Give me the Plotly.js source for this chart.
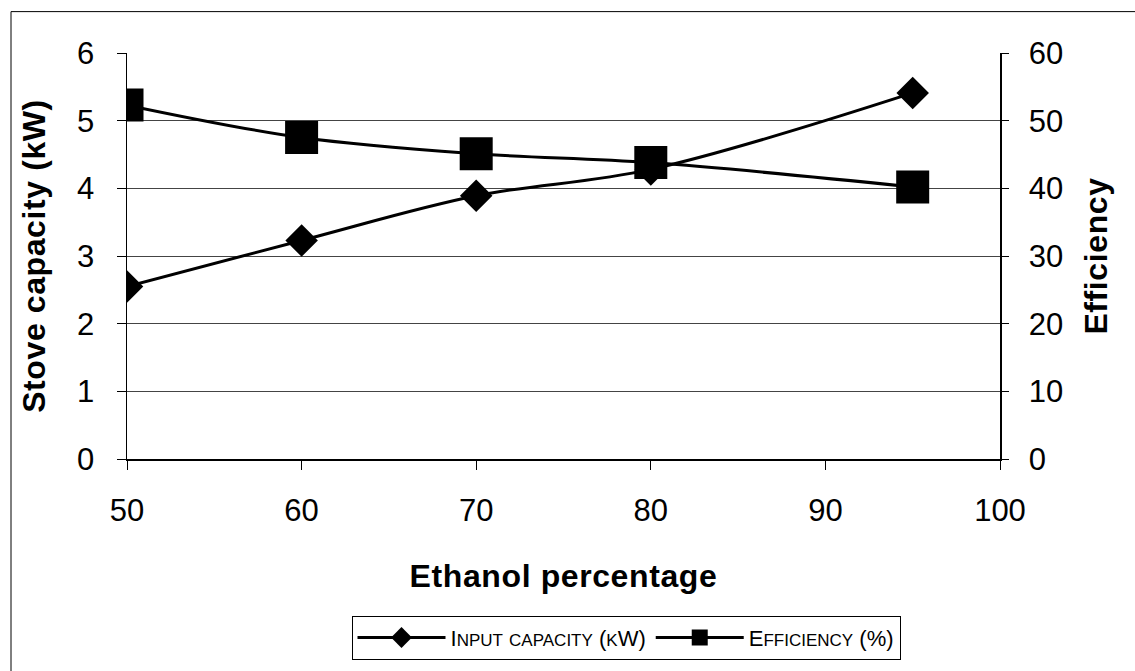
<!DOCTYPE html>
<html>
<head>
<meta charset="utf-8">
<script src="https://cdn.plot.ly/plotly-3.0.1.min.js"></script>
<style>
  html, body { margin: 0; padding: 0; background: #fff; }
  #chart { width: 1135px; height: 671px; }
  .g-xtitle text, .g-ytitle text, .g-y2title text { letter-spacing: 0.6px; }
</style>
</head>
<body>
<div id="chart"></div>
<script>
// ---- data ----
const ethanolPct = [50, 60, 70, 80, 95];
const inputCapacity = [2.55, 3.23, 3.89, 4.28, 5.41];   // kW (left axis)
const efficiency = [52.3, 47.5, 45.1, 43.8, 40.2];      // % (right axis)
const seriesNames = ["Input capacity (kW)", "Efficiency (%)"];
const xTitle = "Ethanol percentage";
const yTitle = "Stove capacity (kW)";
const y2Title = "Efficiency";

// small-caps rendering for legend labels (as in the reference)
function smallCaps(s, small) {
  let out = "";
  for (const ch of s) {
    if (ch >= "a" && ch <= "z") {
      out += '<span style="font-size:' + small + 'px">' + ch.toUpperCase() + '</span>';
    } else {
      out += ch;
    }
  }
  return out;
}

const FONT = "Liberation Sans, Arial, sans-serif";

const traces = [
  {
    x: ethanolPct, y: inputCapacity, name: smallCaps(seriesNames[0], 17),
    type: "scatter", mode: "lines+markers",
    line: { color: "#000", width: 3, shape: "spline", smoothing: 1 },
    marker: { symbol: "diamond", size: 25, color: "#000" },
    yaxis: "y"
  },
  {
    x: ethanolPct, y: efficiency, name: smallCaps(seriesNames[1], 17),
    type: "scatter", mode: "lines+markers",
    line: { color: "#000", width: 3, shape: "spline", smoothing: 1 },
    marker: { symbol: "square", size: 33, color: "#000" },
    yaxis: "y2"
  }
];

const L = 127, R = 1000, T = 53, B = 465;
const W = 1135, H = 671;
const pw = R - L, ph = B - T;
const px = v => (v - L) / pw;
const py = v => (B - v) / ph;

const layout = {
  width: W, height: H,
  margin: { l: L, r: W - R, t: T, b: H - B, pad: 0 },
  paper_bgcolor: "#fff",
  plot_bgcolor: "#fff",
  font: { family: FONT, color: "#000", size: 31 },
  showlegend: true,
  xaxis: {
    range: [50, 100], dtick: 10, tick0: 50,
    showgrid: false, zeroline: false,
    showline: true, linecolor: "#000", linewidth: 1.5,
    ticks: "outside", ticklen: 9, tickcolor: "#000", tickwidth: 1,
    ticklabelstandoff: 14,
    tickfont: { size: 31, family: FONT },
    title: { text: "<b>" + xTitle + "</b>", font: { size: 32, family: FONT }, standoff: 38 },
    fixedrange: true
  },
  yaxis: {
    range: [0, 6], dtick: 1, tick0: 0,
    showgrid: true, gridcolor: "#444", gridwidth: 1,
    zeroline: false,
    showline: true, linecolor: "#000", linewidth: 1.5,
    ticks: "outside", ticklen: 9, tickcolor: "#000", tickwidth: 1,
    ticklabelstandoff: 16,
    tickfont: { size: 31, family: FONT },
    title: { text: "<b>" + yTitle + "</b>", font: { size: 32, family: FONT }, standoff: 22 },
    fixedrange: true
  },
  yaxis2: {
    range: [0, 60], dtick: 10, tick0: 0,
    overlaying: "y", side: "right",
    showgrid: false, zeroline: false,
    showline: true, linecolor: "#000", linewidth: 1.5,
    ticks: "outside", ticklen: 7, tickcolor: "#000", tickwidth: 1,
    ticklabelstandoff: 14,
    tickfont: { size: 31, family: FONT },
    title: { text: "<b>" + y2Title + "</b>", font: { size: 32, family: FONT }, standoff: 22 },
    fixedrange: true
  },
  legend: {
    orientation: "h",
    x: px(626), xanchor: "center",
    y: py(624), yanchor: "top",
    bordercolor: "#000", borderwidth: 1,
    bgcolor: "#fff",
    font: { size: 22, family: FONT },
    itemwidth: 88,
    itemclick: false, itemdoubleclick: false
  },
  shapes: [
    {
      type: "rect", xref: "paper", yref: "paper",
      x0: px(11), x1: px(1145), y0: py(11), y1: py(690),
      line: { color: "#000", width: 1 }, fillcolor: "rgba(0,0,0,0)", layer: "below"
    }
  ]
};

Plotly.newPlot("chart", traces, layout, { staticPlot: true, displayModeBar: false });
</script>
</body>
</html>
